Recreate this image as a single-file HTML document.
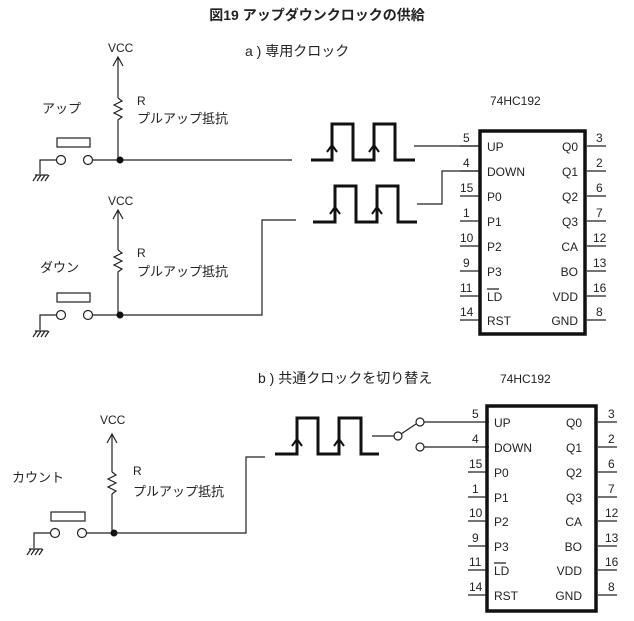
<!DOCTYPE html>
<html><head><meta charset="utf-8"><style>
body{margin:0;background:#fff}
svg{display:block}
text{font-family:"Liberation Sans","Noto Sans CJK JP",sans-serif;fill:#222}
</style></head><body>
<svg width="634" height="621" viewBox="0 0 634 621" xmlns="http://www.w3.org/2000/svg">
<text x="317" y="20" font-size="14" text-anchor="middle" font-weight="bold">図19  アップダウンクロックの供給</text>
<text x="245" y="56" font-size="14">a ) 専用クロック</text>
<text x="490" y="105" font-size="12">74HC192</text>
<text x="258" y="383" font-size="14">b ) 共通クロックを切り替え</text>
<text x="500" y="383" font-size="12">74HC192</text>

<g stroke="#222" stroke-width="1.2" fill="none">
<path d="M118 98 V57 M113 66 L118 57 L123 66"/>
<path d="M118 98 l4 3 l-8 4 l8 4 l-8 4 l8 4 l-4 3 V160"/>
<rect x="57" y="138" width="33" height="9"/>
<circle cx="61" cy="160" r="4.5"/><circle cx="88" cy="160" r="4.5"/>
<path d="M56 160 H40 V174 M92 160 H292"/>
<path d="M33 181 l4 -6 M37 181 l4 -6 M41 181 l4 -6 M45 181 l4 -6 M35 175 H48"/>
<path d="M118 250 V210 M113 219 L118 210 L123 219"/>
<path d="M118 250 l4 3 l-8 4 l8 4 l-8 4 l8 4 l-4 3 V315"/>
<rect x="57" y="293" width="33" height="9"/>
<circle cx="61" cy="315" r="4.5"/><circle cx="88" cy="315" r="4.5"/>
<path d="M56 315 H40 V330 M92 315 H262 V220 H296"/>
<path d="M33 337 l4 -6 M37 337 l4 -6 M41 337 l4 -6 M45 337 l4 -6 M35 331 H48"/>
<path d="M414 146 H479 M417 204 H442 V171 H479"/>
<path d="M112 472 V434 M107 443 L112 434 L117 443"/>
<path d="M112 472 l4 3 l-8 4 l8 4 l-8 4 l8 4 l-4 3 V533"/>
<rect x="51" y="512" width="34" height="9"/>
<circle cx="55" cy="533" r="4.5"/><circle cx="82" cy="533" r="4.5"/>
<path d="M50 533 H34 V548 M86 533 H246 V457 H265"/>
<path d="M27 555 l4 -6 M31 555 l4 -6 M35 555 l4 -6 M39 555 l4 -6 M29 549 H42"/>
<path d="M372 436 H394 M401 434 L416 424 M424 422 H489 M424 447 H489"/>
<circle cx="398" cy="436" r="4"/><circle cx="420" cy="422" r="4"/><circle cx="420" cy="447" r="4"/>
</g>
<circle cx="120" cy="160" r="3.5" fill="#111"/>
<circle cx="120" cy="315" r="3.5" fill="#111"/>
<circle cx="114" cy="533" r="3.5" fill="#111"/>

<g font-size="12">
<text x="108" y="52">VCC</text>
<text x="108" y="205">VCC</text>
<text x="100" y="424">VCC</text>
<text x="137" y="105">R</text>
<text x="137" y="257">R</text>
<text x="133" y="475">R</text>
</g>
<g font-size="13">
<text x="42" y="113">アップ</text>
<text x="40" y="272">ダウン</text>
<text x="12" y="482">カウント</text>
<text x="137" y="123">プルアップ抵抗</text>
<text x="137" y="276">プルアップ抵抗</text>
<text x="133" y="496">プルアップ抵抗</text>
</g>

<g stroke="#111" stroke-width="3" fill="none">
<path d="M311 160 H332 V124 H353 V160 H374 V124 H395 V160 H415"/>
<path d="M313 222 H335 V186 H356 V222 H377 V186 H398 V222 H417"/>
<path d="M275 454 H297 V418 H318 V454 H339 V418 H361 V454 H379"/>
</g>
<g stroke="#111" stroke-width="2" fill="none">
<path d="M327 152 L332 145 L337 152 M369 152 L374 145 L379 152"/>
<path d="M330 214 L335 207 L340 214 M372 214 L377 207 L382 214"/>
<path d="M292 446 L297 439 L302 446 M334 446 L339 439 L344 446"/>
</g>

<rect x="480" y="131" width="105" height="203" fill="none" stroke="#111" stroke-width="3.5"/>
<rect x="487" y="406" width="109" height="205" fill="none" stroke="#111" stroke-width="3.5"/>

<g stroke="#222" stroke-width="1.2">
<path d="M460 146H479M460 171H479M460 196H479M460 221H479M460 246H479M460 271H479M460 296H479M460 320H479"/>
<path d="M587 146H606M587 171H606M587 196H606M587 221H606M587 246H606M587 271H606M587 296H606M587 320H606"/>
<path d="M468 472H486M468 497H486M468 521H486M468 546H486M468 570H486M468 595H486"/>
<path d="M598 422H617M598 447H617M598 472H617M598 497H617M598 521H617M598 546H617M598 570H617M598 595H617"/>
<path d="M487 289H499 M494 563H506"/>
</g>
<g font-size="12">
<text x="487" y="151">UP</text><text x="487" y="176">DOWN</text><text x="487" y="201">P0</text><text x="487" y="226">P1</text><text x="487" y="251">P2</text><text x="487" y="276">P3</text><text x="487" y="301">LD</text><text x="487" y="325">RST</text>
<g text-anchor="end"><text x="578" y="151">Q0</text><text x="578" y="176">Q1</text><text x="578" y="201">Q2</text><text x="578" y="226">Q3</text><text x="578" y="251">CA</text><text x="578" y="276">BO</text><text x="578" y="301">VDD</text><text x="578" y="325">GND</text></g>
<text x="463" y="142">5</text><text x="463" y="167">4</text><text x="460" y="192">15</text><text x="463" y="217">1</text><text x="460" y="242">10</text><text x="463" y="267">9</text><text x="460" y="292">11</text><text x="460" y="316">14</text>
<text x="596" y="142">3</text><text x="596" y="167">2</text><text x="596" y="192">6</text><text x="596" y="217">7</text><text x="593" y="242">12</text><text x="593" y="267">13</text><text x="593" y="292">16</text><text x="596" y="316">8</text>

<text x="494" y="427">UP</text><text x="494" y="452">DOWN</text><text x="494" y="477">P0</text><text x="494" y="502">P1</text><text x="494" y="526">P2</text><text x="494" y="551">P3</text><text x="494" y="575">LD</text><text x="494" y="600">RST</text>
<g text-anchor="end"><text x="582" y="427">Q0</text><text x="582" y="452">Q1</text><text x="582" y="477">Q2</text><text x="582" y="502">Q3</text><text x="582" y="526">CA</text><text x="582" y="551">BO</text><text x="582" y="575">VDD</text><text x="582" y="600">GND</text></g>
<text x="472" y="418">5</text><text x="472" y="443">4</text><text x="469" y="468">15</text><text x="472" y="493">1</text><text x="469" y="517">10</text><text x="472" y="542">9</text><text x="469" y="566">11</text><text x="469" y="591">14</text>
<text x="608" y="418">3</text><text x="608" y="443">2</text><text x="608" y="468">6</text><text x="608" y="493">7</text><text x="605" y="517">12</text><text x="605" y="542">13</text><text x="605" y="566">16</text><text x="608" y="591">8</text>
</g>
</svg>
</body></html>
